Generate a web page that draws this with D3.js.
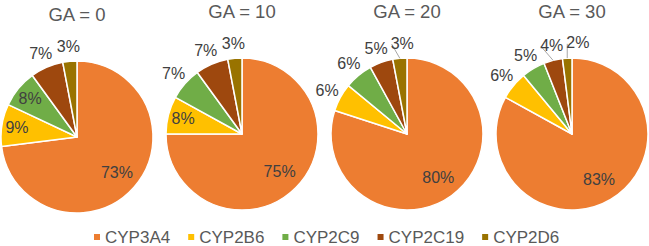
<!DOCTYPE html>
<html>
<head>
<meta charset="utf-8">
<script src="https://cdn.jsdelivr.net/npm/d3@7"></script>
<style>
  html, body { margin: 0; padding: 0; background: #fff; }
  svg { display: block; font-family: "Liberation Sans", Arial, sans-serif; }
</style>
</head>
<body>
<svg id="chart" width="649" height="246"></svg>
<script>
// ---- data ----
const categories = ["CYP3A4", "CYP2B6", "CYP2C9", "CYP2C19", "CYP2D6"];
const panelTitles = ["GA = 0", "GA = 10", "GA = 20", "GA = 30"];
const ga0  = [73, 9, 8, 7, 3];
const ga10 = [75, 8, 7, 7, 3];
const ga20 = [80, 6, 6, 5, 3];
const ga30 = [83, 6, 5, 4, 2];
const seriesValues = [ga0, ga10, ga20, ga30];

// ---- styles / layout ----
const colors = ["#ED7D31", "#FFC000", "#70AD47", "#9E480E", "#997300"];
const R = 76;
const svg = d3.select("#chart");

const color = d3.scaleOrdinal().domain(categories).range(colors);
const xPanel = d3.scalePoint().domain(panelTitles).range([77, 572]);
const panelDy = [3, 0, 0, 0];   // first chart sits slightly lower in the original

const pie = d3.pie().sort(null).value(d => d.value);
const arc = d3.arc().innerRadius(0).outerRadius(R);

function overlap(a, b, pad) {
  return !(a.x + a.width + pad <= b.x || b.x + b.width + pad <= a.x ||
           a.y + a.height + pad <= b.y || b.y + b.height + pad <= a.y);
}

panelTitles.forEach((title, p) => {
  const cx = xPanel(title);
  const cy = 134 + panelDy[p];
  const g = svg.append("g").attr("transform", `translate(${cx},${cy})`);

  svg.append("text")
    .attr("x", cx).attr("y", 17.5 + panelDy[p])
    .attr("text-anchor", "middle")
    .attr("fill", "#595959")
    .attr("font-size", 18.5)
    .text(title);

  const data = categories.map((c, i) => ({ cat: c, value: seriesValues[p][i] }));
  const arcs = pie(data);

  g.selectAll("path.slice").data(arcs).join("path")
    .attr("class", "slice")
    .attr("d", arc)
    .attr("fill", d => color(d.data.cat))
    .attr("stroke", "#fff")
    .attr("stroke-width", 1.5)
    .attr("stroke-linejoin", "round");

  const placed = [];
  arcs.forEach(d => {
    const mid = (d.startAngle + d.endAngle) / 2;
    const ux = Math.sin(mid), uy = -Math.cos(mid);
    let rr, inside = true;
    if (d.data.value >= 50) rr = 0.7 * R;
    else if (d.data.value >= 8) rr = 0.8 * R;
    else { rr = 1.2 * R; inside = false; }
    const t = g.append("text")
      .attr("x", ux * rr).attr("y", uy * rr)
      .attr("text-anchor", "middle")
      .attr("dominant-baseline", "central")
      .attr("fill", "#404040")
      .attr("font-size", 16)
      .text(d.data.value + "%");
    if (!inside) {
      let bb = t.node().getBBox();
      let moved = false;
      placed.forEach(o => {
        if (overlap(bb, o, 1)) {
          const shift = (o.x + o.width + 3) - bb.x;
          t.attr("x", +t.attr("x") + shift);
          bb = t.node().getBBox();
          moved = true;
        }
      });
      if (moved) {
        g.insert("line", "text")
          .attr("x1", ux * R).attr("y1", uy * R)
          .attr("x2", bb.x + 1).attr("y2", bb.y + bb.height * 0.55)
          .attr("stroke", "#A6A6A6")
          .attr("stroke-width", 1);
      }
      placed.push(bb);
    }
  });
});

// ---- legend ----
const legend = svg.append("g").attr("transform", "translate(94,237)");
let lx = 0;
categories.forEach(c => {
  const item = legend.append("g").attr("transform", `translate(${lx},0)`);
  item.append("rect")
    .attr("x", 0).attr("y", -3).attr("width", 6).attr("height", 6)
    .attr("fill", color(c));
  const txt = item.append("text")
    .attr("x", 11).attr("y", 5.5)
    .attr("fill", "#595959")
    .attr("font-size", 17)
    .text(c);
  lx += 11 + txt.node().getComputedTextLength() + 18;
});
</script>
</body>
</html>
